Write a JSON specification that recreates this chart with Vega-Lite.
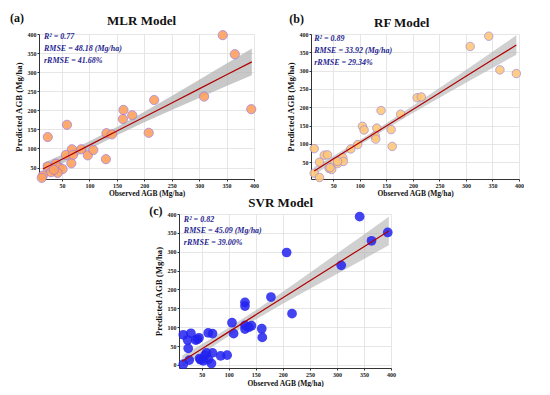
{
  "$schema": "https://vega.github.io/schema/vega-lite/v6.json",
  "padding": {"left": 9, "top": 11, "right": 0, "bottom": 0},
  "background": "white",
  "config": {
    "font": "Liberation Serif",
    "view": {"stroke": null},
    "axis": {"labelFont": "Liberation Serif", "labelFontSize": 6, "labelFontWeight": "bold", "labelColor": "#222", "labelPadding": 1, "labelFlush": false, "labelOverlap": false, "labelBound": false, "tickSize": 2, "tickCount": 20, "tickColor": "#333", "domainColor": "#333", "domainWidth": 1, "gridColor": "#e3e3e3", "gridWidth": 0.9, "titleFont": "Liberation Serif", "titleFontWeight": "bold", "titleColor": "#111"},
    "axisX": {"titleFontSize": 7.5, "titlePadding": 1},
    "axisY": {"titleFontSize": 8.8, "titlePadding": 4}
  },
  "datasets": {
    "mlr": [
      {"x": 343, "y": 397}, {"x": 365, "y": 347}, {"x": 309, "y": 236}, {"x": 395, "y": 203}, {"x": 218, "y": 227},
      {"x": 162, "y": 201}, {"x": 161, "y": 177}, {"x": 178, "y": 187}, {"x": 208, "y": 141}, {"x": 131, "y": 140},
      {"x": 141, "y": 137}, {"x": 130, "y": 72}, {"x": 59, "y": 162}, {"x": 24, "y": 130}, {"x": 68, "y": 98},
      {"x": 85, "y": 98}, {"x": 57, "y": 83}, {"x": 70, "y": 83}, {"x": 97, "y": 82}, {"x": 107, "y": 96},
      {"x": 67, "y": 61}, {"x": 24, "y": 53}, {"x": 39, "y": 60}, {"x": 45, "y": 50}, {"x": 51, "y": 46},
      {"x": 42, "y": 36}, {"x": 30, "y": 38}, {"x": 15, "y": 29}, {"x": 13, "y": 23}, {"x": 35, "y": 44}
    ],
    "rf": [
      {"x": 343, "y": 394}, {"x": 308, "y": 366}, {"x": 364, "y": 302}, {"x": 395, "y": 292}, {"x": 208, "y": 226},
      {"x": 216, "y": 228}, {"x": 177, "y": 181}, {"x": 140, "y": 191}, {"x": 105, "y": 148}, {"x": 108, "y": 138},
      {"x": 132, "y": 143}, {"x": 129, "y": 122}, {"x": 130, "y": 113}, {"x": 159, "y": 139}, {"x": 161, "y": 93},
      {"x": 96, "y": 98}, {"x": 83, "y": 86}, {"x": 14, "y": 87}, {"x": 33, "y": 69}, {"x": 39, "y": 70},
      {"x": 24, "y": 50}, {"x": 52, "y": 50}, {"x": 58, "y": 46}, {"x": 68, "y": 62}, {"x": 69, "y": 52},
      {"x": 42, "y": 33}, {"x": 47, "y": 30}, {"x": 14, "y": 20}, {"x": 24, "y": 8}, {"x": 44, "y": 35}, {"x": 58, "y": 52}
    ],
    "svr": [
      {"x": 342, "y": 393}, {"x": 394, "y": 351}, {"x": 364, "y": 329}, {"x": 308, "y": 264}, {"x": 207, "y": 298},
      {"x": 217, "y": 136}, {"x": 178, "y": 180}, {"x": 130, "y": 166}, {"x": 130, "y": 156}, {"x": 106, "y": 112},
      {"x": 109, "y": 83}, {"x": 130, "y": 105}, {"x": 130, "y": 95}, {"x": 137, "y": 100}, {"x": 142, "y": 104},
      {"x": 161, "y": 96}, {"x": 162, "y": 73}, {"x": 16, "y": 80}, {"x": 30, "y": 84}, {"x": 24, "y": 66},
      {"x": 39, "y": 66}, {"x": 45, "y": 72}, {"x": 25, "y": 44}, {"x": 62, "y": 85}, {"x": 70, "y": 83},
      {"x": 16, "y": 2}, {"x": 27, "y": 13}, {"x": 46, "y": 17}, {"x": 53, "y": 11}, {"x": 59, "y": 32},
      {"x": 62, "y": 15}, {"x": 70, "y": 32}, {"x": 68, "y": 4}, {"x": 85, "y": 24}, {"x": 97, "y": 26},
      {"x": 56, "y": 26}, {"x": 42, "y": 68}, {"x": 48, "y": 14}
    ],
    "fit_mlr": [
      {"x": 15, "lo": 31, "fit": 46, "hi": 61}, {"x": 50, "lo": 59.8, "fit": 71.8, "hi": 83.8},
      {"x": 100, "lo": 98.2, "fit": 108.7, "hi": 119.2}, {"x": 150, "lo": 134.6, "fit": 145.6, "hi": 156.6},
      {"x": 200, "lo": 168.4, "fit": 182.4, "hi": 196.4}, {"x": 250, "lo": 200.8, "fit": 219.3, "hi": 237.8},
      {"x": 300, "lo": 232.2, "fit": 256.2, "hi": 280.2}, {"x": 350, "lo": 263.6, "fit": 293.1, "hi": 322.6},
      {"x": 396, "lo": 292, "fit": 327, "hi": 362}
    ],
    "fit_rf": [
      {"x": 14, "lo": 15, "fit": 26, "hi": 37}, {"x": 50, "lo": 50, "fit": 58.5, "hi": 67},
      {"x": 100, "lo": 96.7, "fit": 103.7, "hi": 110.7}, {"x": 150, "lo": 141.3, "fit": 148.8, "hi": 156.3},
      {"x": 200, "lo": 184, "fit": 194, "hi": 204}, {"x": 250, "lo": 225.6, "fit": 239.1, "hi": 252.6},
      {"x": 300, "lo": 266.8, "fit": 284.3, "hi": 301.8}, {"x": 350, "lo": 307.4, "fit": 329.4, "hi": 351.4},
      {"x": 395, "lo": 343.5, "fit": 370, "hi": 396.5}
    ],
    "fit_svr": [
      {"x": 14, "lo": -5, "fit": 10, "hi": 25}, {"x": 50, "lo": 30, "fit": 42.5, "hi": 55},
      {"x": 100, "lo": 76.7, "fit": 87.7, "hi": 98.7}, {"x": 150, "lo": 120.8, "fit": 132.8, "hi": 144.8},
      {"x": 200, "lo": 162, "fit": 178, "hi": 194}, {"x": 250, "lo": 202.1, "fit": 223.1, "hi": 244.1},
      {"x": 300, "lo": 241.3, "fit": 268.3, "hi": 295.3}, {"x": 350, "lo": 280.9, "fit": 313.4, "hi": 345.9},
      {"x": 396, "lo": 317, "fit": 355, "hi": 393}
    ]
  },
  "spacing": 0,
  "bounds": "full",
  "vconcat": [
    {
      "spacing": 27,
      "bounds": "full",
      "hconcat": [
        {
          "width": 215, "height": 145,
          "layer": [
            {
              "data": {"name": "fit_mlr"},
              "mark": {"type": "area", "color": "#b0b0b0", "opacity": 0.7},
              "encoding": {
                "x": {"field": "x", "type": "quantitative", "title": "Observed AGB (Mg/ha)", "scale": {"domain": [8, 400], "nice": false, "zero": false}, "axis": {"values": [50, 100, 150, 200, 250, 300, 350, 400], "tickCount": 20, "labelOverlap": false}},
                "y": {"field": "lo", "type": "quantitative", "title": "Predicted AGB (Mg/ha)", "scale": {"domain": [20, 400], "nice": false, "zero": false}, "axis": {"values": [50, 100, 150, 200, 250, 300, 350, 400], "tickCount": 20, "labelOverlap": false}},
                "y2": {"field": "hi"}
              }
            },
            {
              "data": {"name": "mlr"},
              "mark": {"type": "circle", "size": 85, "fill": "#FFA15E", "stroke": "#9A7BE0", "strokeWidth": 0.8, "opacity": 0.9},
              "encoding": {
                "x": {"field": "x", "type": "quantitative", "title": "Observed AGB (Mg/ha)"},
                "y": {"field": "y", "type": "quantitative", "title": "Predicted AGB (Mg/ha)"}
              }
            },
            {
              "data": {"name": "fit_mlr"},
              "mark": {"type": "line", "color": "#B00000", "strokeWidth": 1.2},
              "encoding": {
                "x": {"field": "x", "type": "quantitative", "title": "Observed AGB (Mg/ha)"},
                "y": {"field": "fit", "type": "quantitative", "title": "Predicted AGB (Mg/ha)"}
              }
            },
            {
              "data": {"values": [{"model": "MLR"}]},
              "mark": {"type": "text", "align": "left", "baseline": "alphabetic", "fontStyle": "italic", "fontWeight": "bold", "fontSize": 8, "lineHeight": 12, "color": "#1f1f8f", "text": ["R² = 0.77", "RMSE = 48.18 (Mg/ha)", "rRMSE = 41.68%"]},
              "encoding": {"x": {"datum": 17, "type": "quantitative"}, "y": {"datum": 386, "type": "quantitative"}}
            },
            {
              "data": {"values": [{"model": "MLR"}]},
              "mark": {"type": "text", "align": "center", "baseline": "alphabetic", "fontWeight": "bold", "fontSize": 13, "color": "#111", "text": "MLR Model"},
              "encoding": {"x": {"datum": 195, "type": "quantitative"}, "y": {"datum": 423, "type": "quantitative"}}
            },
            {
              "data": {"values": [{"model": "MLR"}]},
              "mark": {"type": "text", "align": "left", "baseline": "alphabetic", "fontWeight": "bold", "fontSize": 12, "color": "#111", "text": "(a)"},
              "encoding": {"x": {"datum": -45, "type": "quantitative"}, "y": {"datum": 432, "type": "quantitative"}}
            }
          ]
        },
        {
          "width": 208, "height": 145,
          "layer": [
            {
              "data": {"name": "fit_rf"},
              "mark": {"type": "area", "color": "#b0b0b0", "opacity": 0.6},
              "encoding": {
                "x": {"field": "x", "type": "quantitative", "title": "Observed AGB (Mg/ha)", "scale": {"domain": [8, 400], "nice": false, "zero": false}, "axis": {"values": [50, 100, 150, 200, 250, 300, 350, 400], "tickCount": 20, "labelOverlap": false}},
                "y": {"field": "lo", "type": "quantitative", "title": "Predicted AGB (Mg/ha)", "scale": {"domain": [4, 400], "nice": false, "zero": false}, "axis": {"values": [50, 100, 150, 200, 250, 300, 350, 400], "tickCount": 20, "labelOverlap": false}},
                "y2": {"field": "hi"}
              }
            },
            {
              "data": {"name": "rf"},
              "mark": {"type": "circle", "size": 72, "fill": "#FFC878", "stroke": "#A08AD8", "strokeWidth": 0.8, "opacity": 0.9},
              "encoding": {
                "x": {"field": "x", "type": "quantitative", "title": "Observed AGB (Mg/ha)"},
                "y": {"field": "y", "type": "quantitative", "title": "Predicted AGB (Mg/ha)"}
              }
            },
            {
              "data": {"name": "fit_rf"},
              "mark": {"type": "line", "color": "#B00000", "strokeWidth": 1.2},
              "encoding": {
                "x": {"field": "x", "type": "quantitative", "title": "Observed AGB (Mg/ha)"},
                "y": {"field": "fit", "type": "quantitative", "title": "Predicted AGB (Mg/ha)"}
              }
            },
            {
              "data": {"values": [{"model": "RF"}]},
              "mark": {"type": "text", "align": "left", "baseline": "alphabetic", "fontStyle": "italic", "fontWeight": "bold", "fontSize": 8, "lineHeight": 12, "color": "#1f1f8f", "text": ["R² = 0.89", "RMSE = 33.92 (Mg/ha)", "rRMSE = 29.34%"]},
              "encoding": {"x": {"datum": 14, "type": "quantitative"}, "y": {"datum": 381, "type": "quantitative"}}
            },
            {
              "data": {"values": [{"model": "RF"}]},
              "mark": {"type": "text", "align": "center", "baseline": "alphabetic", "fontWeight": "bold", "fontSize": 13, "color": "#111", "text": "RF Model"},
              "encoding": {"x": {"datum": 179, "type": "quantitative"}, "y": {"datum": 418, "type": "quantitative"}}
            },
            {
              "data": {"values": [{"model": "RF"}]},
              "mark": {"type": "text", "align": "left", "baseline": "alphabetic", "fontWeight": "bold", "fontSize": 12, "color": "#111", "text": "(b)"},
              "encoding": {"x": {"datum": -33, "type": "quantitative"}, "y": {"datum": 430, "type": "quantitative"}}
            }
          ]
        }
      ]
    },
    {
      "spacing": 106,
      "bounds": "full",
      "hconcat": [
        {"width": 1, "height": 1, "data": {"values": [{}]}, "mark": {"type": "point", "opacity": 0}, "encoding": {}},
        {
          "width": 212, "height": 154,
          "layer": [
            {
              "data": {"name": "fit_svr"},
              "mark": {"type": "area", "color": "#b0b0b0", "opacity": 0.6},
              "encoding": {
                "x": {"field": "x", "type": "quantitative", "title": "Observed AGB (Mg/ha)", "scale": {"domain": [8, 400], "nice": false, "zero": false}, "axis": {"values": [50, 100, 150, 200, 250, 300, 350, 400], "tickCount": 20, "titlePadding": 2, "labelOverlap": false}},
                "y": {"field": "lo", "type": "quantitative", "title": "Predicted AGB (Mg/ha)", "scale": {"domain": [-8, 400], "nice": false, "zero": false}, "axis": {"values": [0, 50, 100, 150, 200, 250, 300, 350, 400], "tickCount": 20, "labelOverlap": false}},
                "y2": {"field": "hi"}
              }
            },
            {
              "data": {"name": "svr"},
              "mark": {"type": "circle", "size": 95, "fill": "#2222F0", "opacity": 0.85},
              "encoding": {
                "x": {"field": "x", "type": "quantitative", "title": "Observed AGB (Mg/ha)"},
                "y": {"field": "y", "type": "quantitative", "title": "Predicted AGB (Mg/ha)"}
              }
            },
            {
              "data": {"name": "fit_svr"},
              "mark": {"type": "line", "color": "#B00000", "strokeWidth": 1.2},
              "encoding": {
                "x": {"field": "x", "type": "quantitative", "title": "Observed AGB (Mg/ha)"},
                "y": {"field": "fit", "type": "quantitative", "title": "Predicted AGB (Mg/ha)"}
              }
            },
            {
              "data": {"values": [{"model": "SVR"}]},
              "mark": {"type": "text", "align": "left", "baseline": "alphabetic", "fontStyle": "italic", "fontWeight": "bold", "fontSize": 8, "lineHeight": 11.5, "color": "#1f1f8f", "text": ["R² = 0.82", "RMSE = 45.09 (Mg/ha)", "rRMSE = 39.00%"]},
              "encoding": {"x": {"datum": 17, "type": "quantitative"}, "y": {"datum": 380, "type": "quantitative"}}
            },
            {
              "data": {"values": [{"model": "SVR"}]},
              "mark": {"type": "text", "align": "center", "baseline": "alphabetic", "fontWeight": "bold", "fontSize": 13, "color": "#111", "text": "SVR Model"},
              "encoding": {"x": {"datum": 196, "type": "quantitative"}, "y": {"datum": 418, "type": "quantitative"}}
            },
            {
              "data": {"values": [{"model": "SVR"}]},
              "mark": {"type": "text", "align": "left", "baseline": "alphabetic", "fontWeight": "bold", "fontSize": 12, "color": "#111", "text": "(c)"},
              "encoding": {"x": {"datum": -47, "type": "quantitative"}, "y": {"datum": 398, "type": "quantitative"}}
            }
          ]
        }
      ]
    }
  ]
}
